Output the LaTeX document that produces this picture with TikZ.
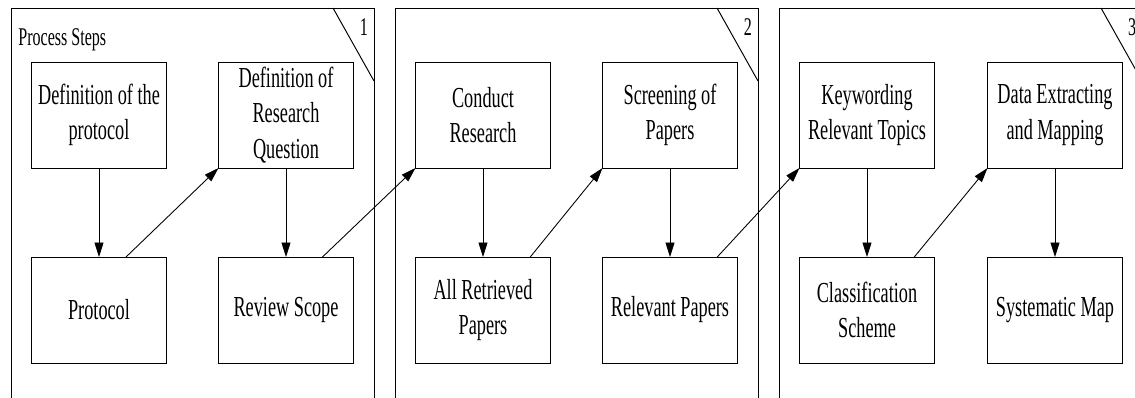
\documentclass[tikz,border=0pt]{standalone}
\usepackage{fontspec}
\setmainfont{Liberation Serif}[FakeStretch=0.63]
\usetikzlibrary{arrows.meta, calc}

\begin{document}
\begin{tikzpicture}[x=0.02cm, y=-0.02cm,
	stepbox/.style={draw, line width=0.55pt, minimum width=2.7cm, minimum height=2.12cm,
		inner sep=0pt, outer sep=0pt, align=center, font=\fontsize{16.5}{20}\selectfont},
	flow/.style={-{Triangle[length=2.9mm, width=1.8mm]}, line width=0.5pt},
	frame/.style={line width=0.55pt}]
	% Define sizes of the panels
	\def\panelW{363}
	\def\tabW{41}
	\def\tabH{73}

	\useasboundingbox (0,0) rectangle (1135,397);
	\clip (0,0) rectangle (1135,397);

	% Draw the three panels with their numbered corner
	\foreach \n/\xl in {1/11, 2/395, 3/779} {
		\draw[frame] (\xl,400) -- (\xl,8) -- (\xl+\panelW,8) -- (\xl+\panelW,400);
		\draw[frame] (\xl+\panelW-\tabW,8) -- (\xl+\panelW,8+\tabH);
		\node[font=\fontsize{14.5}{16}\selectfont, inner sep=0pt, anchor=base] at (\xl+353,35) {\n};
	}

	% Title of the first panel
	\node[anchor=base west, inner sep=0pt, font=\fontsize{14.5}{16}\selectfont] (title) at (18,45) {Process Steps};

	% Top row
	\node[stepbox] (defprot) at (99,115) {Definition of the\\protocol};
	\node[stepbox] (defrq) at (286,115) {Definition of\\Research\\Question};
	\node[stepbox] (conduct) at (483,115) {Conduct\\Research};
	\node[stepbox] (screening) at (670,115) {Screening of\\Papers};
	\node[stepbox] (keywording) at (867,115) {Keywording\\Relevant Topics};
	\node[stepbox] (extracting) at (1055,115) {Data Extracting\\and Mapping};

	% Bottom row
	\node[stepbox] (protocol) at (99,310) {Protocol};
	\node[stepbox] (scope) at (286,310) {Review Scope};
	\node[stepbox] (retrieved) at (483,310) {All Retrieved\\Papers};
	\node[stepbox] (relevant) at (670,310) {Relevant Papers};
	\node[stepbox] (scheme) at (867,310) {Classification\\Scheme};
	\node[stepbox] (map) at (1055,310) {Systematic Map};

	% Vertical arrows
	\draw[flow] (defprot) -- (protocol);
	\draw[flow] (defrq) -- (scope);
	\draw[flow] (conduct) -- (retrieved);
	\draw[flow] (screening) -- (relevant);
	\draw[flow] (keywording) -- (scheme);
	\draw[flow] (extracting) -- (map);

	% Diagonal arrows to the next step
	\draw[flow] ($(protocol.north west)!0.70!(protocol.north east)$) -- (defrq.south west);
	\draw[flow] ($(scope.north west)!0.77!(scope.north east)$) -- (conduct.south west);
	\draw[flow] ($(retrieved.north west)!0.85!(retrieved.north east)$) -- (screening.south west);
	\draw[flow] ($(relevant.north west)!0.85!(relevant.north east)$) -- (keywording.south west);
	\draw[flow] ($(scheme.north west)!0.85!(scheme.north east)$) -- (extracting.south west);
\end{tikzpicture}
\end{document}
